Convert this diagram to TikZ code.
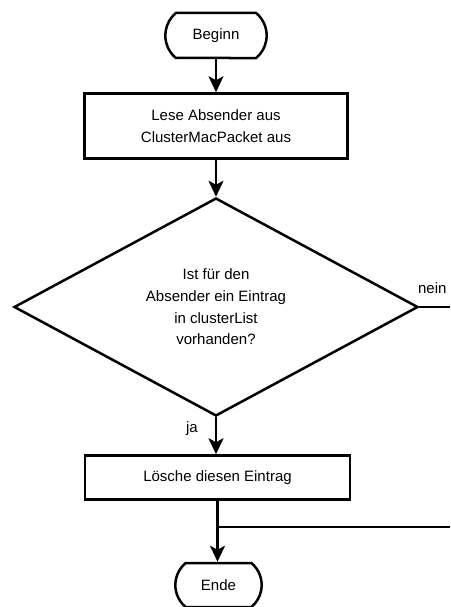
\documentclass[tikz,border=0pt]{standalone}
\usepackage{fontspec}
\setmainfont{Liberation Sans}
\usepackage{tikz}
\usetikzlibrary{positioning}
\usetikzlibrary{shapes.geometric,shapes.misc,arrows.meta}

\begin{document}
\begin{tikzpicture}[
    x=1pt, y=-1pt,
    font=\fontsize{15}{21.75}\selectfont,
    line width=2.5pt,
    box/.style={rectangle, draw=black, minimum width=263pt, minimum height=65pt, align=center},
    decision/.style={diamond, draw=black, aspect=1.85, minimum width=404pt, minimum height=218pt, align=center},
    terminal/.style={rounded rectangle, rounded rectangle arc length=100, draw=black, minimum width=108pt, minimum height=45pt},
    flow/.style={-{Stealth[length=16pt, width=15pt, inset=4pt]}}
]
\useasboundingbox (0,0) rectangle (450,607);
\coordinate (rand) at (450,0);

\node[terminal] (1_1) at (216,35.5) {Beginn};
\node[box] (2_1) [below=33pt of 1_1] {Lese Absender aus\\ClusterMacPacket aus};
\node[decision] (3_1) [below=37pt of 2_1] {Ist für den\\Absender ein Eintrag\\in clusterList\\vorhanden?};
\node[box, minimum width=265pt, minimum height=44pt] (4_1) [below=37pt of 3_1, xshift=1.5pt] {Lösche diesen Eintrag};
\node[terminal, minimum width=93pt, minimum height=44pt] (5_1) [below=61pt of 4_1, xshift=1pt] {Ende};

\node (nein) at ([xshift=13pt, yshift=18.5pt]3_1.east) {nein};
\node (ja) at ([xshift=-24pt, yshift=-11pt]3_1.south) {ja};

\draw[flow] (1_1.south) to (1_1.south |- 2_1.north);
\draw[flow] (2_1.south) to (2_1.south |- 3_1.north);
\draw[flow] (3_1.south) to (3_1.south |- 4_1.north);
\draw[flow] (4_1.south) to (4_1.south |- 5_1.north);
\draw (3_1.east) to (3_1.east -| rand);
\path (4_1.south) ++(0,26) coordinate (4_2);
\draw (4_2) to (4_2 -| rand);
\end{tikzpicture}
\end{document}
